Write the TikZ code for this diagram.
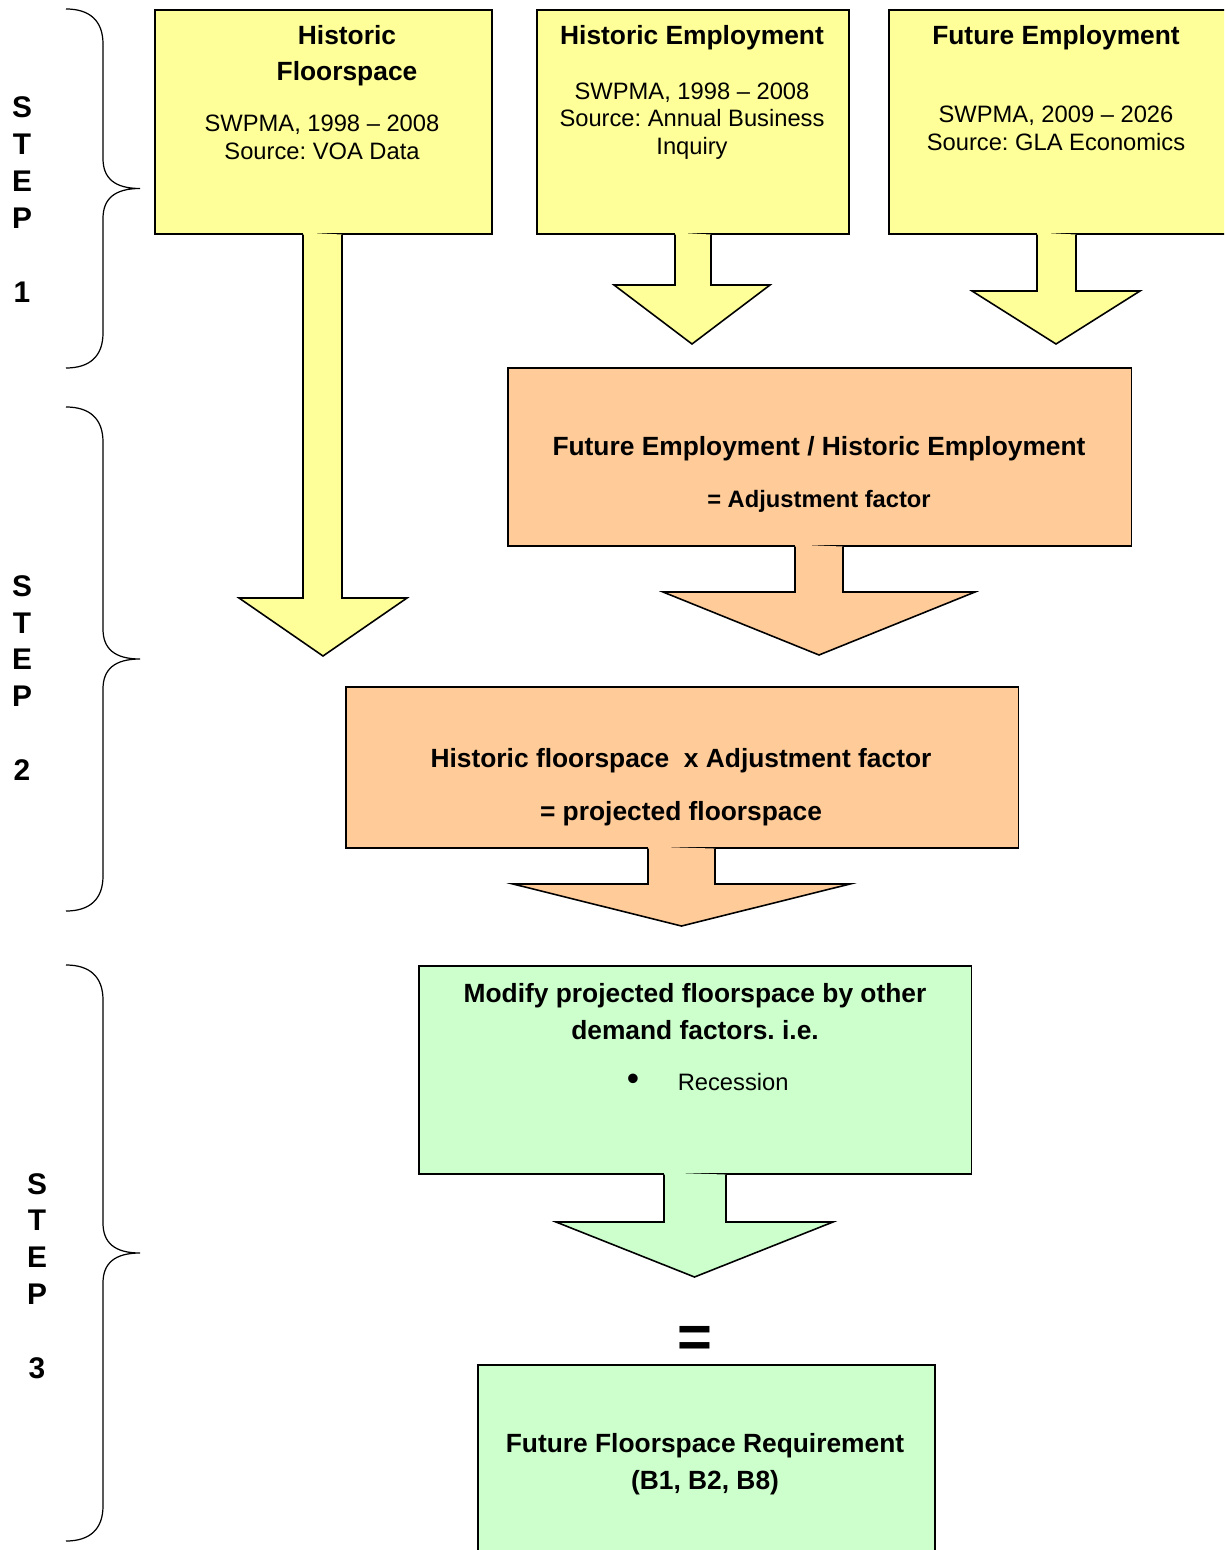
\documentclass[tikz,border=0pt]{standalone}
\usepackage{fontspec}
\setmainfont{Liberation Sans}
\frenchspacing
\definecolor{yel}{RGB}{255,255,153}
\definecolor{ora}{RGB}{255,204,153}
\definecolor{grn}{RGB}{204,255,204}
% block arrow below a box: colour, box, stem left/right, head top, head left/right, tip
\newcommand{\blockarrow}[8]{%
  \fill[#1] (#3,0 |- #2.south) ++(0,-2) -- (#3,#5) -- (#6,#5) -- ({(#6+#7)/2},#8)
    -- (#7,#5) -- (#4,#5) -- (#4,0 |- #2.south) ++(0,-2) -- cycle;
  \draw (#3,0 |- #2.south) -- (#3,#5) -- (#6,#5) -- ({(#6+#7)/2},#8)
    -- (#7,#5) -- (#4,#5) -- (#4,0 |- #2.south);}
% curly brace at the left: top y, bottom y
\newcommand{\curlybrace}[2]{%
  \draw [line width=0.7pt] (66,#1) .. controls (90,#1) and (103,{#1+12}) .. (103,{#1+35})
    -- (103,{(#1+#2)/2-30}) .. controls (103,{(#1+#2)/2-10}) and (115,{(#1+#2)/2}) .. (140,{(#1+#2)/2})
    .. controls (115,{(#1+#2)/2}) and (103,{(#1+#2)/2+10}) .. (103,{(#1+#2)/2+30})
    -- (103,{#2-35}) .. controls (103,{#2-12}) and (90,#2) .. (66,#2);}
\begin{document}
\begin{tikzpicture}
      [
      x=0.02cm, y=-0.02cm, line width=0.9pt,
      box/.style={draw,rectangle,anchor=north west,inner sep=0pt},
      ttl/.style={font=\bfseries\fontsize{15}{20.4}\selectfont,align=center,inner sep=0pt,yshift=-0.06cm},
      body/.style={font=\fontsize{13.5}{15.6}\selectfont,align=center,inner sep=0pt,yshift=-0.02cm},
      steplbl/.style={font=\bfseries\fontsize{17}{21}\selectfont,align=center,inner sep=0pt}
      ]
      \useasboundingbox (0,0) rectangle (1224,1550);
      \clip (0,0) rectangle (1224,1550);
      % step 1
      \node (hf) [box,fill=yel,minimum width=6.74cm,minimum height=4.48cm] at (154,9) {};
      \node (he) [box,fill=yel,minimum width=6.24cm,minimum height=4.48cm] at (536,9) {};
      \node (fe) [box,fill=yel,minimum width=6.76cm,minimum height=4.48cm] at (888,9) {};
      \node (hft) at (347,53) [ttl] {Historic\\Floorspace};
      \node (hfb) at (322,136.5) [body] {SWPMA, 1998 – 2008\\Source: VOA Data};
      \node (het) at (692,35) [ttl] {Historic Employment};
      \node (heb) at (692,120) [body] {SWPMA, 1998 – 2008\\Source: Annual Business\\Inquiry};
      \node (fet) at (1056,35) [ttl] {Future Employment};
      \node (feb) at (1056,127.5) [body] {SWPMA, 2009 – 2026\\Source: GLA Economics};
      % step 2
      \node (adj) [box,fill=ora,minimum width=12.48cm,minimum height=3.56cm] at (507,367) {};
      \node (adjt) at (819,446) [ttl] {Future Employment / Historic Employment};
      \node (adjb) at (819,498) [ttl,font=\bfseries\fontsize{13.5}{16}\selectfont] {= Adjustment factor};
      \node (proj) [box,fill=ora,minimum width=13.46cm,minimum height=3.22cm] at (345,686) {};
      \node (projt) at (681,758) [ttl] {Historic floorspace \ x Adjustment factor};
      \node (projb) at (681,811) [ttl] {= projected floorspace};
      % step 3
      \node (mod) [box,fill=grn,minimum width=11.06cm,minimum height=4.16cm] at (418,965) {};
      \node (modt) at (695,1009) [ttl,font=\bfseries\fontsize{15}{21}\selectfont] {Modify projected floorspace by other\\demand factors. i.e.};
      \node (bul) at (633,1081) [body,font=\fontsize{20}{20}\selectfont] {•};
      \node (rec) at (677,1081) [body,anchor=west] {Recession};
      \node (eq) at (695,1342) [inner sep=0pt,font=\bfseries\fontsize{34}{34}\selectfont] {=};
      \node (req) [box,fill=grn,minimum width=9.14cm,minimum height=3.92cm] at (477,1364) {};
      \node (reqt) at (705,1461.5) [ttl,font=\bfseries\fontsize{15}{21}\selectfont] {Future Floorspace Requirement\\(B1, B2, B8)};
      % block arrows
      \blockarrow{yel}{hf}{303}{342}{598}{239}{407}{656}
      \blockarrow{yel}{he}{675}{711}{285}{614}{770}{344}
      \blockarrow{yel}{fe}{1037}{1076}{291}{972}{1140}{344}
      \blockarrow{ora}{adj}{795}{843}{592}{663}{975}{655}
      \blockarrow{ora}{proj}{648}{715}{884}{513}{850}{926}
      \blockarrow{grn}{mod}{664}{726}{1222}{556}{833}{1277}
      % braces and step labels
      \curlybrace{9}{368}
      \curlybrace{407}{911}
      \curlybrace{965}{1541}
      \node (s1) at (22,199.5) [steplbl] {S\\T\\E\\P\\[21pt]1};
      \node (s2) at (22,678) [steplbl] {S\\T\\E\\P\\[21pt]2};
      \node (s3) at (37,1276) [steplbl] {S\\T\\E\\P\\[21pt]3};
    \end{tikzpicture}
\end{document}
